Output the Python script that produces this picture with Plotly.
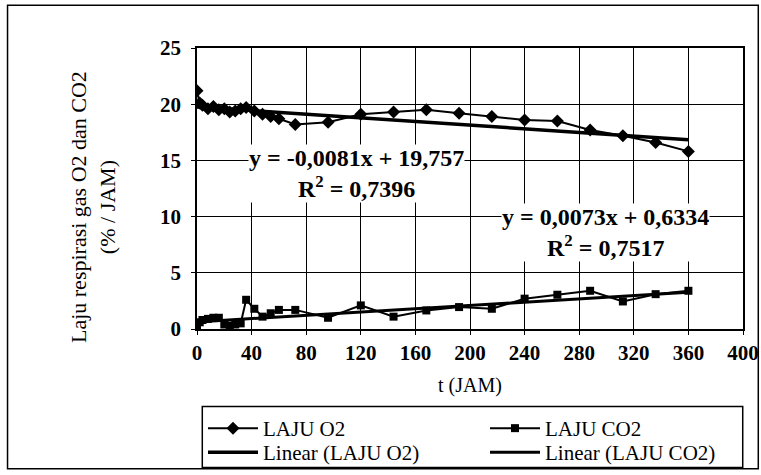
import plotly.graph_objects as go

# ---- data ----
t_jam = [0, 2, 4, 8, 12, 16, 20, 24, 28, 32, 36, 42, 48, 54, 60, 72,
         96, 120, 144, 168, 192, 216, 240, 264, 288, 312, 336, 360]
laju_o2 = [21.2, 20.1, 19.9, 19.6, 19.8, 19.5, 19.6, 19.3, 19.4, 19.6, 19.7, 19.4, 19.1, 18.9, 18.7, 18.2,
           18.4, 19.1, 19.3, 19.5, 19.2, 18.9, 18.6, 18.5, 17.7, 17.2, 16.6, 15.8]
laju_co2 = [0.2, 0.6, 0.8, 0.9, 1.0, 1.0, 0.4, 0.3, 0.4, 0.5, 2.6, 1.8, 1.1, 1.4, 1.7, 1.7,
            1.0, 2.1, 1.1, 1.65, 1.95, 1.8, 2.7, 3.05, 3.4, 2.45, 3.1, 3.4]

# printed trend-line equations (Excel linear fits)
trend_names = ["Linear (LAJU O2)", "Linear (LAJU CO2)"]
trend_slope = [-0.0081, 0.0073]
trend_intercept = [19.757, 0.6334]
trend_eq = ["y = -0,0081x + 19,757", "y = 0,0073x + 0,6334"]
trend_r2 = ["R<sup>2</sup> = 0,7396", "R<sup>2</sup> = 0,7517"]

x_ticks = [0, 40, 80, 120, 160, 200, 240, 280, 320, 360, 400]
y_ticks = [0, 5, 10, 15, 20, 25]

FONT = "Liberation Serif"
W, H = 761, 475

fig = go.Figure()
fig.add_trace(go.Scatter(x=t_jam, y=laju_o2, name="LAJU O2", mode="lines+markers",
                         legend="legend",
                         line=dict(color="black", width=2),
                         marker=dict(symbol="diamond", size=10, color="black")))
fig.add_trace(go.Scatter(x=t_jam, y=laju_co2, name="LAJU CO2", mode="lines+markers",
                         legend="legend2",
                         line=dict(color="black", width=2),
                         marker=dict(symbol="square", size=8, color="black")))

t0, t1 = t_jam[0], t_jam[-1]
widths = [3.5, 3]
legs = ["legend3", "legend4"]
for i in range(2):
    fig.add_trace(go.Scatter(x=[t0, t1],
                             y=[trend_intercept[i] + trend_slope[i] * t0,
                                trend_intercept[i] + trend_slope[i] * t1],
                             name=trend_names[i], mode="lines", legend=legs[i],
                             line=dict(color="black", width=widths[i])))

# equation labels
eq_pos = [(116.5, 13.8), (299, 8.6)]
for i in range(2):
    fig.add_annotation(x=eq_pos[i][0], y=eq_pos[i][1], xref="x", yref="y",
                       text=trend_eq[i] + "<br>" + trend_r2[i], showarrow=False,
                       font=dict(family=FONT, size=24, color="black", weight="bold"),
                       bgcolor="white", align="center", borderpad=0)

# y axis title
fig.add_annotation(x=-0.19, y=0.435, xref="paper", yref="paper",
                   xanchor="center", yanchor="middle",
                   text="Laju respirasi gas O2 dan CO2<br>(% / JAM)", textangle=-90,
                   showarrow=False, font=dict(family=FONT, size=22, color="black"),
                   align="center")

# outer chart border
fig.add_shape(type="rect", xref="paper", yref="paper",
              x0=-0.347, x1=1.028, y0=-0.497, y1=1.152,
              line=dict(color="black", width=1.5), fillcolor="rgba(0,0,0,0)")
# legend frame
fig.add_shape(type="rect", xref="paper", yref="paper",
              x0=0.0097, x1=0.9995, y0=-0.493, y1=-0.276,
              line=dict(color="black", width=1.5), fillcolor="rgba(0,0,0,0)")

leg_common = dict(orientation="v", xref="container", yref="container",
                  xanchor="left", yanchor="top", itemwidth=50, tracegroupgap=0,
                  bgcolor="rgba(0,0,0,0)", borderwidth=0,
                  font=dict(family=FONT, size=21, color="black"))
col_x = [203 / W, 485 / W]
row_y = [1 - 408 / H, 1 - 432 / H]

fig.update_layout(
    width=W, height=H,
    margin=dict(l=197, r=18, t=48, b=146, autoexpand=False),
    paper_bgcolor="white", plot_bgcolor="white",
    font=dict(family=FONT, color="black", size=16),
    showlegend=True,
    legend=dict(x=col_x[0], y=row_y[0], **leg_common),
    legend2=dict(x=col_x[1], y=row_y[0], **leg_common),
    legend3=dict(x=col_x[0], y=row_y[1], **leg_common),
    legend4=dict(x=col_x[1], y=row_y[1], **leg_common),
    xaxis=dict(range=[0, 400], tickvals=x_ticks, ticktext=[str(v) for v in x_ticks],
               showgrid=True, gridcolor="black", gridwidth=1, griddash="solid",
               showline=True, linecolor="black", linewidth=1.5, mirror=True,
               ticks="outside", ticklen=4, tickcolor="black", zeroline=False, automargin=False,
               tickfont=dict(family=FONT, size=21, color="black", weight="bold"),
               title=dict(text="t (JAM)", font=dict(family=FONT, size=20, color="black"), standoff=14)),
    yaxis=dict(range=[0, 25], tickvals=y_ticks, ticktext=[str(v) for v in y_ticks],
               showgrid=True, gridcolor="black", gridwidth=1, griddash="solid",
               showline=True, linecolor="black", linewidth=1.5, mirror=True,
               ticks="outside", ticklen=4, tickcolor="black", zeroline=False, automargin=False,
               ticklabelstandoff=6,
               tickfont=dict(family=FONT, size=21, color="black", weight="bold")),
)

fig.write_html("out.html", config={"displayModeBar": False},
               post_script="document.body.style.margin='0';document.body.style.overflow='hidden';")
